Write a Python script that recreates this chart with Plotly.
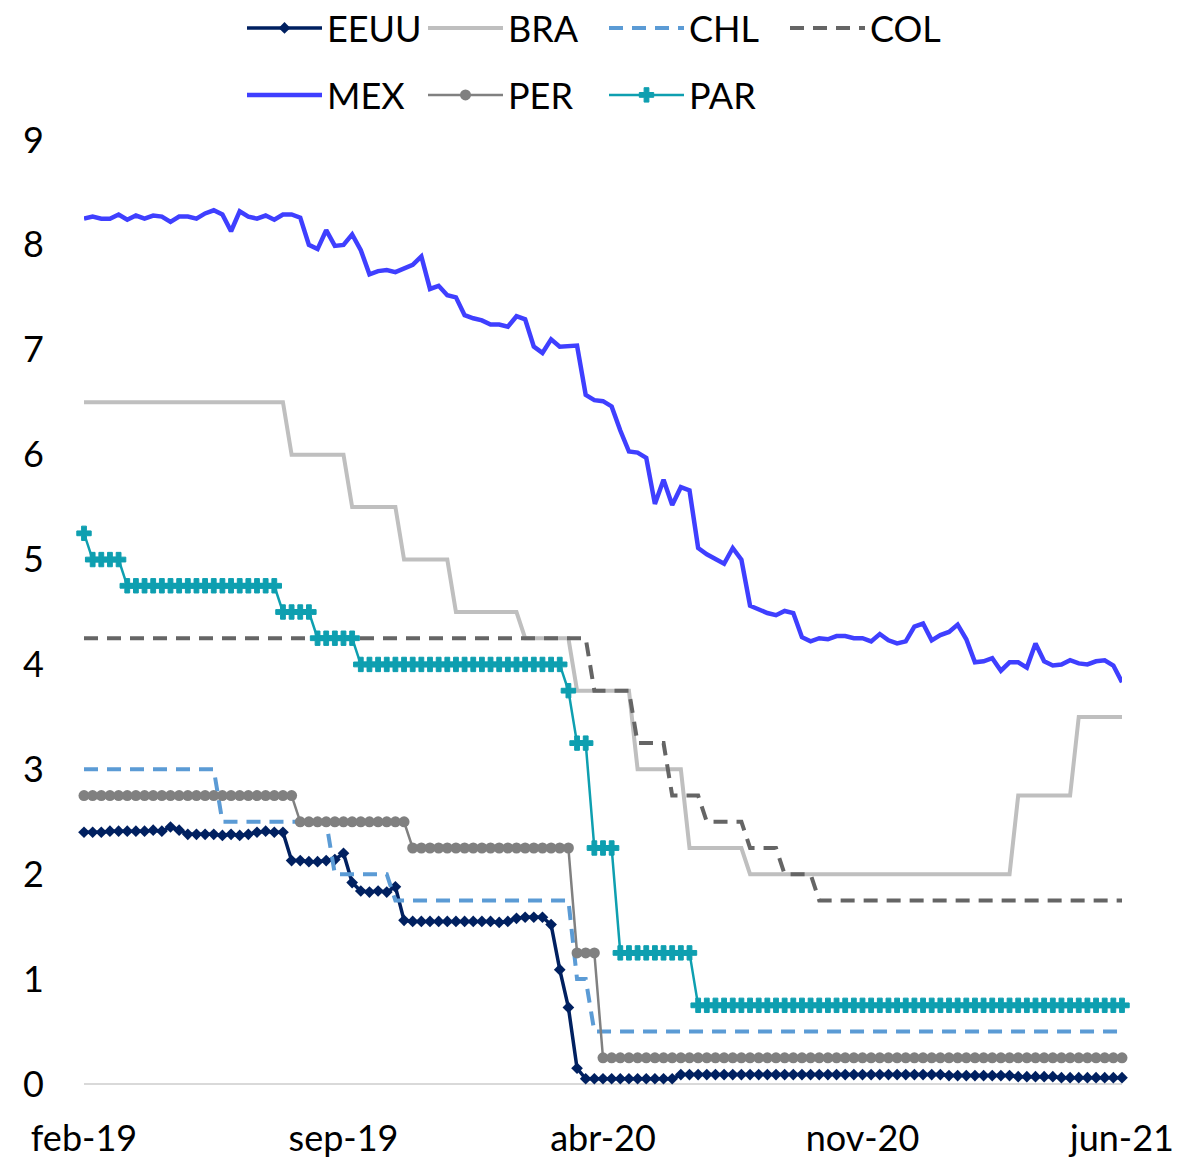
import pandas as pd
import plotly.graph_objects as go

# weekly observations (121 weeks), category-style date axis
dates = pd.date_range("2019-02-15", periods=121, freq="7D")
tick_idx = [0, 30, 60, 90, 120]
tick_labels = ["feb-19", "sep-19", "abr-20", "nov-20", "jun-21"]

eeuu = [2.40, 2.40, 2.40, 2.41, 2.41, 2.41, 2.41, 2.41, 2.42, 2.41,
        2.45, 2.42, 2.38, 2.38, 2.38, 2.38, 2.37, 2.38, 2.37, 2.38,
        2.40, 2.41, 2.40, 2.40, 2.13, 2.13, 2.12, 2.12, 2.13, 2.14,
        2.20, 1.92, 1.84, 1.83, 1.84, 1.83, 1.88, 1.56, 1.55, 1.55,
        1.55, 1.55, 1.55, 1.55, 1.55, 1.55, 1.55, 1.55, 1.54, 1.55,
        1.58, 1.59, 1.59, 1.59, 1.52, 1.09, 0.73, 0.15, 0.05, 0.05,
        0.05, 0.05, 0.05, 0.05, 0.05, 0.05, 0.05, 0.05, 0.05, 0.09,
        0.09, 0.09, 0.09, 0.09, 0.09, 0.09, 0.09, 0.09, 0.09, 0.09,
        0.09, 0.09, 0.09, 0.09, 0.09, 0.09, 0.09, 0.09, 0.09, 0.09,
        0.09, 0.09, 0.09, 0.09, 0.09, 0.09, 0.09, 0.09, 0.09, 0.09,
        0.08, 0.08, 0.08, 0.08, 0.08, 0.08, 0.08, 0.08, 0.07, 0.07,
        0.07, 0.07, 0.07, 0.06, 0.06, 0.06, 0.06, 0.06, 0.06, 0.06,
        0.06]

bra = [6.5, 6.5, 6.5, 6.5, 6.5, 6.5, 6.5, 6.5, 6.5, 6.5,
       6.5, 6.5, 6.5, 6.5, 6.5, 6.5, 6.5, 6.5, 6.5, 6.5,
       6.5, 6.5, 6.5, 6.5, 6.0, 6.0, 6.0, 6.0, 6.0, 6.0,
       6.0, 5.5, 5.5, 5.5, 5.5, 5.5, 5.5, 5.0, 5.0, 5.0,
       5.0, 5.0, 5.0, 4.5, 4.5, 4.5, 4.5, 4.5, 4.5, 4.5,
       4.5, 4.25, 4.25, 4.25, 4.25, 4.25, 4.25, 3.75, 3.75, 3.75,
       3.75, 3.75, 3.75, 3.75, 3.0, 3.0, 3.0, 3.0, 3.0, 3.0,
       2.25, 2.25, 2.25, 2.25, 2.25, 2.25, 2.25, 2.0, 2.0, 2.0,
       2.0, 2.0, 2.0, 2.0, 2.0, 2.0, 2.0, 2.0, 2.0, 2.0,
       2.0, 2.0, 2.0, 2.0, 2.0, 2.0, 2.0, 2.0, 2.0, 2.0,
       2.0, 2.0, 2.0, 2.0, 2.0, 2.0, 2.0, 2.0, 2.75, 2.75,
       2.75, 2.75, 2.75, 2.75, 2.75, 3.5, 3.5, 3.5, 3.5, 3.5,
       3.5]

chl = [3.0, 3.0, 3.0, 3.0, 3.0, 3.0, 3.0, 3.0, 3.0, 3.0,
       3.0, 3.0, 3.0, 3.0, 3.0, 3.0, 2.5, 2.5, 2.5, 2.5,
       2.5, 2.5, 2.5, 2.5, 2.5, 2.5, 2.5, 2.5, 2.5, 2.0,
       2.0, 2.0, 2.0, 2.0, 2.0, 2.0, 1.75, 1.75, 1.75, 1.75,
       1.75, 1.75, 1.75, 1.75, 1.75, 1.75, 1.75, 1.75, 1.75, 1.75,
       1.75, 1.75, 1.75, 1.75, 1.75, 1.75, 1.75, 1.0, 1.0, 0.5,
       0.5, 0.5, 0.5, 0.5, 0.5, 0.5, 0.5, 0.5, 0.5, 0.5,
       0.5, 0.5, 0.5, 0.5, 0.5, 0.5, 0.5, 0.5, 0.5, 0.5,
       0.5, 0.5, 0.5, 0.5, 0.5, 0.5, 0.5, 0.5, 0.5, 0.5,
       0.5, 0.5, 0.5, 0.5, 0.5, 0.5, 0.5, 0.5, 0.5, 0.5,
       0.5, 0.5, 0.5, 0.5, 0.5, 0.5, 0.5, 0.5, 0.5, 0.5,
       0.5, 0.5, 0.5, 0.5, 0.5, 0.5, 0.5, 0.5, 0.5, 0.5,
       0.5]

col = [4.25, 4.25, 4.25, 4.25, 4.25, 4.25, 4.25, 4.25, 4.25, 4.25,
       4.25, 4.25, 4.25, 4.25, 4.25, 4.25, 4.25, 4.25, 4.25, 4.25,
       4.25, 4.25, 4.25, 4.25, 4.25, 4.25, 4.25, 4.25, 4.25, 4.25,
       4.25, 4.25, 4.25, 4.25, 4.25, 4.25, 4.25, 4.25, 4.25, 4.25,
       4.25, 4.25, 4.25, 4.25, 4.25, 4.25, 4.25, 4.25, 4.25, 4.25,
       4.25, 4.25, 4.25, 4.25, 4.25, 4.25, 4.25, 4.25, 4.25, 3.75,
       3.75, 3.75, 3.75, 3.75, 3.25, 3.25, 3.25, 3.25, 2.75, 2.75,
       2.75, 2.75, 2.5, 2.5, 2.5, 2.5, 2.5, 2.25, 2.25, 2.25,
       2.25, 2.0, 2.0, 2.0, 2.0, 1.75, 1.75, 1.75, 1.75, 1.75,
       1.75, 1.75, 1.75, 1.75, 1.75, 1.75, 1.75, 1.75, 1.75, 1.75,
       1.75, 1.75, 1.75, 1.75, 1.75, 1.75, 1.75, 1.75, 1.75, 1.75,
       1.75, 1.75, 1.75, 1.75, 1.75, 1.75, 1.75, 1.75, 1.75, 1.75,
       1.75]

mex = [8.25, 8.27, 8.25, 8.25, 8.29, 8.24, 8.28, 8.25, 8.28, 8.27,
       8.22, 8.27, 8.27, 8.25, 8.30, 8.33, 8.29, 8.13, 8.32, 8.27,
       8.25, 8.28, 8.24, 8.29, 8.29, 8.26, 8.00, 7.96, 8.14, 7.99,
       8.00, 8.10, 7.95, 7.72, 7.75, 7.76, 7.74, 7.78, 7.81, 7.89,
       7.58, 7.61, 7.52, 7.50, 7.33, 7.30, 7.28, 7.24, 7.24, 7.22,
       7.32, 7.29, 7.03, 6.97, 7.10, 7.03, 7.04, 7.04, 6.57, 6.52,
       6.51, 6.46, 6.23, 6.03, 6.02, 5.97, 5.53, 5.76, 5.52, 5.69,
       5.66, 5.11, 5.05, 5.00, 4.96, 5.11, 5.00, 4.56, 4.52, 4.49,
       4.47, 4.51, 4.49, 4.26, 4.22, 4.25, 4.24, 4.27, 4.27, 4.25,
       4.25, 4.22, 4.29, 4.23, 4.20, 4.22, 4.36, 4.39, 4.23, 4.28,
       4.31, 4.38, 4.24, 4.02, 4.03, 4.06, 3.94, 4.02, 4.02, 3.97,
       4.20, 4.03, 3.99, 4.00, 4.04, 4.01, 4.00, 4.03, 4.04, 3.99,
       3.83]

per = [2.75, 2.75, 2.75, 2.75, 2.75, 2.75, 2.75, 2.75, 2.75, 2.75,
       2.75, 2.75, 2.75, 2.75, 2.75, 2.75, 2.75, 2.75, 2.75, 2.75,
       2.75, 2.75, 2.75, 2.75, 2.75, 2.5, 2.5, 2.5, 2.5, 2.5,
       2.5, 2.5, 2.5, 2.5, 2.5, 2.5, 2.5, 2.5, 2.25, 2.25,
       2.25, 2.25, 2.25, 2.25, 2.25, 2.25, 2.25, 2.25, 2.25, 2.25,
       2.25, 2.25, 2.25, 2.25, 2.25, 2.25, 2.25, 1.25, 1.25, 1.25,
       0.25, 0.25, 0.25, 0.25, 0.25, 0.25, 0.25, 0.25, 0.25, 0.25,
       0.25, 0.25, 0.25, 0.25, 0.25, 0.25, 0.25, 0.25, 0.25, 0.25,
       0.25, 0.25, 0.25, 0.25, 0.25, 0.25, 0.25, 0.25, 0.25, 0.25,
       0.25, 0.25, 0.25, 0.25, 0.25, 0.25, 0.25, 0.25, 0.25, 0.25,
       0.25, 0.25, 0.25, 0.25, 0.25, 0.25, 0.25, 0.25, 0.25, 0.25,
       0.25, 0.25, 0.25, 0.25, 0.25, 0.25, 0.25, 0.25, 0.25, 0.25,
       0.25]

par = [5.25, 5.0, 5.0, 5.0, 5.0, 4.75, 4.75, 4.75, 4.75, 4.75,
       4.75, 4.75, 4.75, 4.75, 4.75, 4.75, 4.75, 4.75, 4.75, 4.75,
       4.75, 4.75, 4.75, 4.5, 4.5, 4.5, 4.5, 4.25, 4.25, 4.25,
       4.25, 4.25, 4.0, 4.0, 4.0, 4.0, 4.0, 4.0, 4.0, 4.0,
       4.0, 4.0, 4.0, 4.0, 4.0, 4.0, 4.0, 4.0, 4.0, 4.0,
       4.0, 4.0, 4.0, 4.0, 4.0, 4.0, 3.75, 3.25, 3.25, 2.25,
       2.25, 2.25, 1.25, 1.25, 1.25, 1.25, 1.25, 1.25, 1.25, 1.25,
       1.25, 0.75, 0.75, 0.75, 0.75, 0.75, 0.75, 0.75, 0.75, 0.75,
       0.75, 0.75, 0.75, 0.75, 0.75, 0.75, 0.75, 0.75, 0.75, 0.75,
       0.75, 0.75, 0.75, 0.75, 0.75, 0.75, 0.75, 0.75, 0.75, 0.75,
       0.75, 0.75, 0.75, 0.75, 0.75, 0.75, 0.75, 0.75, 0.75, 0.75,
       0.75, 0.75, 0.75, 0.75, 0.75, 0.75, 0.75, 0.75, 0.75, 0.75,
       0.75]

FONT = "Lato, 'Open Sans', sans-serif"

fig = go.Figure()

def add(name, y, color, width, dash="solid", symbol=None, msize=0, mline=0, legend="legend"):
    mode = "lines+markers" if symbol else "lines"
    marker = dict(symbol=symbol, size=msize, color=color,
                  line=dict(width=mline, color=color)) if symbol else None
    fig.add_trace(go.Scatter(
        x=dates, y=y, name=name, mode=mode,
        line=dict(color=color, width=width, dash=dash),
        marker=marker, legend=legend, cliponaxis=False,
    ))

add("EEUU", eeuu, "#002060", 3.5, symbol="diamond", msize=9)
add("BRA", bra, "#BFBFBF", 4)
add("CHL", chl, "#5B9BD5", 4, dash="14px,9px")
add("COL", col, "#656565", 4, dash="14px,9px")
add("MEX", mex, "#3F3FFF", 4.5, legend="legend2")
add("PER", per, "#808080", 2.5, symbol="circle", msize=11, legend="legend2")
add("PAR", par, "#0E9FB0", 2.5, symbol="cross", msize=12, mline=1, legend="legend2")

leg_common = dict(
    orientation="h", xref="container", yref="container",
    xanchor="left", yanchor="middle",
    entrywidth=91, entrywidthmode="pixels", itemwidth=75,
    font=dict(family=FONT, size=36, color="#000000"),
    bgcolor="rgba(0,0,0,0)", traceorder="normal",
)

fig.update_layout(
    width=1185, height=1161,
    paper_bgcolor="white", plot_bgcolor="white",
    margin=dict(l=84, r=63, t=140, b=77, autoexpand=False),
    font=dict(family=FONT, size=36, color="#000000"),
    showlegend=True,
    legend=dict(leg_common, x=242 / 1185, y=1 - 28 / 1161),
    legend2=dict(leg_common, x=242 / 1185, y=1 - 95 / 1161),
    xaxis=dict(
        type="date", range=[dates[0], dates[-1]], automargin=False,
        tickvals=[dates[i] for i in tick_idx], ticktext=tick_labels,
        showgrid=False, zeroline=False, showline=False,
        ticks="", ticklabelstandoff=30,
        tickfont=dict(family=FONT, size=36, color="#000000"),
    ),
    yaxis=dict(
        range=[0, 9], tickvals=list(range(0, 10)), automargin=False,
        showgrid=False, zeroline=True, zerolinecolor="#D9D9D9", zerolinewidth=2,
        showline=False, ticks="", ticklabelstandoff=39,
        tickfont=dict(family=FONT, size=36, color="#000000"),
    ),
)

fig.write_html("out.html", config={"displayModeBar": False},
               post_script="document.body.style.margin='0';")
